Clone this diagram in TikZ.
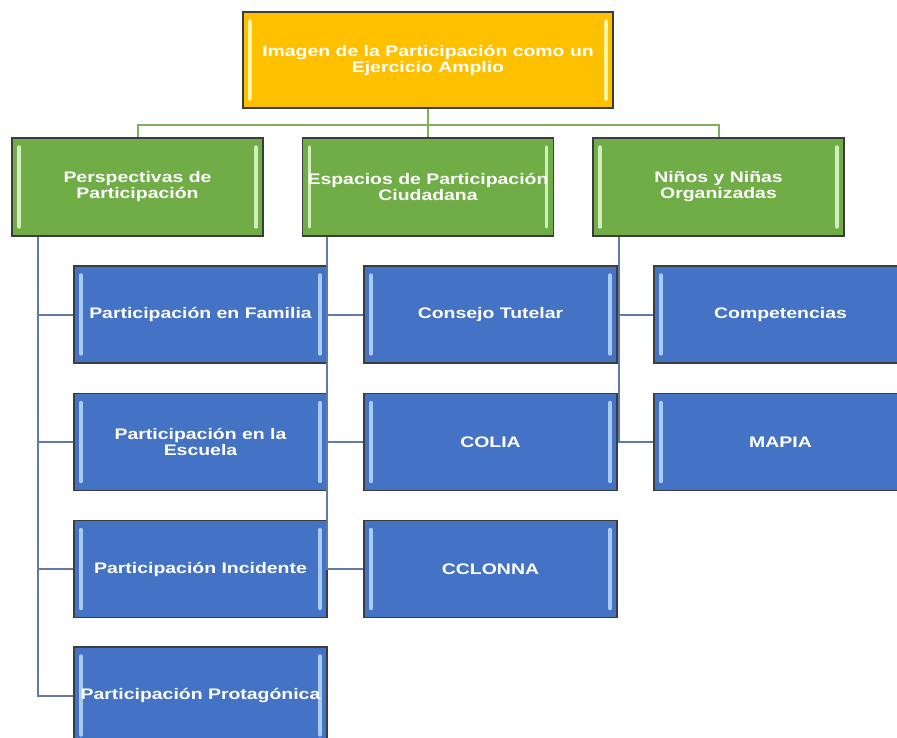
\documentclass[tikz,border=0pt]{standalone}
\usepackage{fontspec}
\setmainfont[FakeStretch=1.27]{Liberation Sans}
\definecolor{cajaoro}{HTML}{FFC000}
\definecolor{cajaverde}{HTML}{70AD47}
\definecolor{cajaazul}{HTML}{4472C4}
\definecolor{brilloro}{HTML}{FFF3A6}
\definecolor{brilloverde}{HTML}{D2EDBE}
\definecolor{brilloazul}{HTML}{A8CBEF}
\definecolor{borde}{HTML}{3C3C3C}
\definecolor{lineaverde}{HTML}{7DAF5E}
\definecolor{lineaazul}{HTML}{5E7BA8}
\tikzset{
  caja/.style n args={2}{draw=borde, line width=1.4pt, fill=#1, text=white,
    align=center, inner sep=0pt,
    font=\fontsize{15.3}{16}\selectfont\bfseries,
    path picture={
      \draw[#2, line width=3.4pt, line cap=round]
        ([xshift=7pt,yshift=-9pt]path picture bounding box.north west) --
        ([xshift=7pt,yshift=9pt]path picture bounding box.south west);
      \draw[#2, line width=3.4pt, line cap=round]
        ([xshift=-7pt,yshift=-9pt]path picture bounding box.north east) --
        ([xshift=-7pt,yshift=9pt]path picture bounding box.south east);
    }},
  oro/.style={caja={cajaoro}{brilloro}, minimum width=370pt, minimum height=96pt},
  verde/.style={caja={cajaverde}{brilloverde}, minimum width=251pt, minimum height=98pt},
  azul/.style={caja={cajaazul}{brilloazul}, minimum width=253pt, minimum height=97pt},
  rama/.style={lineaverde, line width=2pt},
  hoja/.style={lineaazul, line width=2pt},
}
\begin{document}
\begin{tikzpicture}[x=1pt, y=-1pt]
  \useasboundingbox (0,0) rectangle (897,737);
  \clip (0,0) rectangle (897,737);
  \fill[white] (0,0) rectangle (897,737);

  \node[oro] (img) at (428,60) {Imagen de la Participación como un\\Ejercicio Amplio};

  \node[verde] (per) at (137.5,187) {Perspectivas de\\Participación};
  \node[verde] (esp) at (428,187) {Espacios de Participación\\Ciudadana};
  \node[verde] (nin) at (718.5,187) {Niños y Niñas\\Organizadas};

  \node[azul] (fam) at (200.5,314.5) {Participación en Familia};
  \node[azul] (esc) at (200.5,442) {Participación en la\\Escuela};
  \node[azul] (inc) at (200.5,569) {Participación Incidente};
  \node[azul] (pro) at (200.5,695.5) {Participación Protagónica};

  \node[azul] (con) at (490.5,314.5) {Consejo Tutelar};
  \node[azul] (col) at (490.5,442) {COLIA};
  \node[azul] (ccl) at (490.5,569) {CCLONNA};

  \node[azul] (com) at (780.5,314.5) {Competencias};
  \node[azul] (map) at (780.5,442) {MAPIA};

  \foreach \g in {per,esp,nin}
  {
      \draw[rama] (img.south) -- ++(0,16) -| (\g.north);
  }
  \foreach \b in {fam,esc,inc,pro}
  {
      \draw[hoja] ([xshift=27pt]per.south west) |- (\b.west);
  }
  \foreach \b in {con,col,ccl}
  {
      \draw[hoja] ([xshift=25pt]esp.south west) |- (\b.west);
  }
  \foreach \b in {com,map}
  {
      \draw[hoja] ([xshift=27pt]nin.south west) |- (\b.west);
  }
\end{tikzpicture}
\end{document}
